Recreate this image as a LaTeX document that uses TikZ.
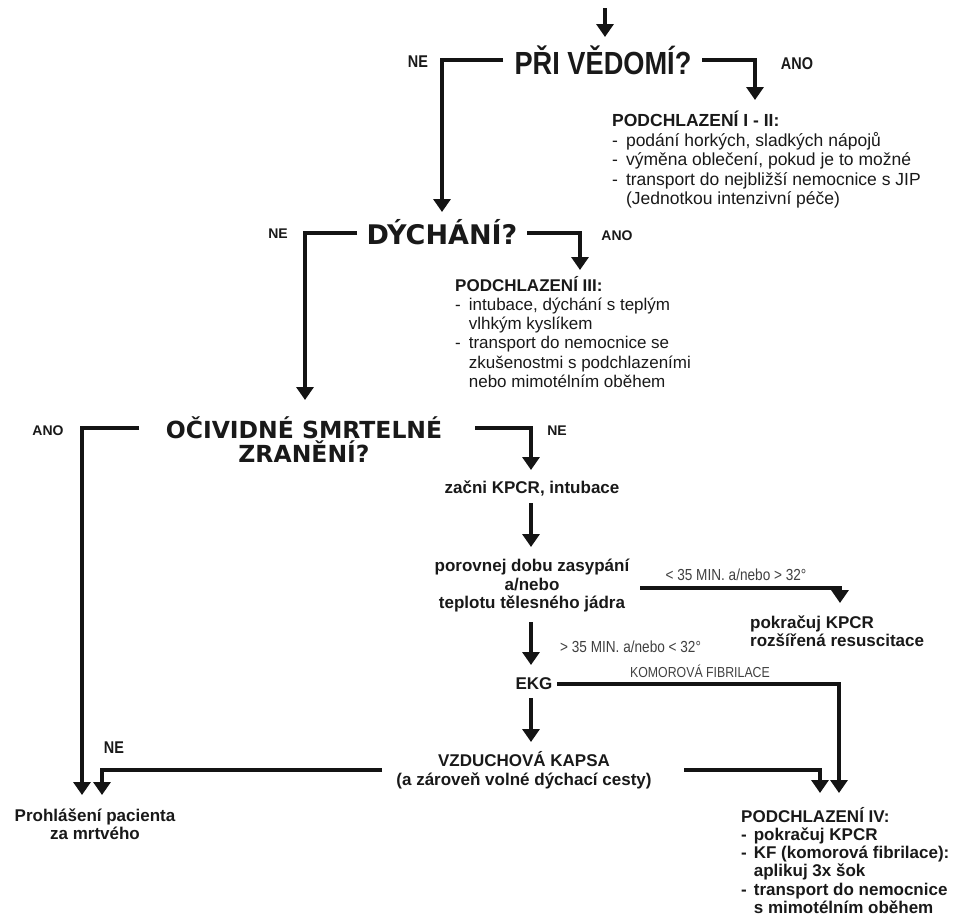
\documentclass[tikz,border=0pt]{standalone}
\usepackage{fontspec}
\setmainfont{Liberation Sans}
\newfontfamily\narrowf{Liberation Sans}[FakeStretch=0.85]
\newfontfamily\widef{DejaVu Sans}
\usetikzlibrary{arrows.meta}
\begin{document}
\begin{tikzpicture}[x=1pt,y=-1pt,
  ln/.style={line width=3.8pt, draw=black!92},
  ar/.style={ln, -{Triangle[length=13pt,width=17pt]}},
  txt/.style={inner sep=0pt, text=black!90},
  qa/.style={txt, font=\narrowf\bfseries\fontsize{32}{32}\selectfont},
  qb/.style={txt, font=\widef\bfseries\fontsize{27}{27}\selectfont, align=center},
  qc/.style={txt, font=\widef\bfseries\fontsize{23.5}{24}\selectfont, align=center},
  lbn/.style={txt, font=\narrowf\bfseries\fontsize{17}{17}\selectfont},
  lbw/.style={txt, font=\bfseries\fontsize{14}{14}\selectfont},
  bold/.style={txt, font=\bfseries\fontsize{17}{18.5}\selectfont, align=center},
  small/.style={txt, text=black!75, font=\narrowf\fontsize{16}{16}\selectfont},
]
\useasboundingbox (0,0) rectangle (969,922);

% --- question 1
\coordinate (top) at (605,8);
\coordinate (topend) at (605,37);
\node[qa] (q1) at (603,60) {PŘI VĚDOMÍ?};
\draw[ar] (top) -- (topend);
\node[lbn] (ne1) at (418,62) {NE};
\node[lbn] (ano1) at (797,64) {ANO};
\coordinate (q1l) at (503,60);
\coordinate (q1r) at (702,60);
\coordinate (b1a) at (755,100);
\coordinate (q2a) at (442,212);
\draw[ar] (q1l) -| (q2a);
\draw[ar] (q1r) -| (b1a);

\node[txt, anchor=north west, font=\fontsize{17.5}{19.3}\selectfont] (b1) at (612,111) {\begin{tabular}{@{}l@{\hspace{8pt}}l@{}}
\multicolumn{2}{@{}l}{\bfseries PODCHLAZENÍ I - II:}\\
-&podání horkých, sladkých nápojů\\
-&výměna oblečení, pokud je to možné\\
-&transport do nejbližší nemocnice s JIP\\
&(Jednotkou intenzivní péče)
\end{tabular}};

% --- question 2
\node[qb] (q2) at (442,232) {DÝCHÁNÍ?};
\node[lbw] (ne2) at (278,234) {NE};
\node[lbw] (ano2) at (617,236) {ANO};
\coordinate (q2l) at (357,233);
\coordinate (q2r) at (527,233);
\coordinate (b3a) at (580,270);
\coordinate (q3a) at (305,400);
\draw[ar] (q2l) -| (q3a);
\draw[ar] (q2r) -| (b3a);

\node[txt, anchor=north west, font=\fontsize{17}{19.2}\selectfont] (b3) at (455,276) {\begin{tabular}{@{}l@{\hspace{8pt}}l@{}}
\multicolumn{2}{@{}l}{\bfseries PODCHLAZENÍ III:}\\
-&intubace, dýchání s teplým\\
&vlhkým kyslíkem\\
-&transport do nemocnice se\\
&zkušenostmi s podchlazeními\\
&nebo mimotélním oběhem
\end{tabular}};

% --- question 3
\node[qc] (q3) at (304,440) {OČIVIDNÉ SMRTELNÉ\\ZRANĚNÍ?};
\node[lbw] (ano3) at (48,431) {ANO};
\node[lbw] (ne3) at (557,431) {NE};
\coordinate (q3l) at (139,428);
\coordinate (q3r) at (475,428);
\coordinate (deadA) at (82,795);
\coordinate (zacA) at (531,470);
\draw[ar] (q3l) -| (deadA);
\draw[ar] (q3r) -| (zacA);

\node[bold] (zac) at (532,488) {začni KPCR, intubace};
\coordinate (zacB) at (531,503);
\coordinate (porA) at (531,547);
\draw[ar] (zacB) -- (porA);

\node[bold] (por) at (532,586) {porovnej dobu zasypání\\a/nebo\\teplotu tělesného jádra};
\coordinate (porB) at (531,622);
\coordinate (ekgA) at (531,665);
\draw[ar] (porB) -- (ekgA);
\node[small, anchor=west] (gt) at (560,647) {> 35 MIN. a/nebo < 32°};

\coordinate (porR) at (640,588);
\coordinate (pokA) at (840,603);
\draw[ar] (porR) -| (pokA);
\node[small] (lt) at (736,575) {< 35 MIN. a/nebo > 32°};
\node[bold, anchor=west, align=left] (pok) at (750,631) {pokračuj KPCR\\rozšířená resuscitace};

% --- EKG
\node[bold] (ekg) at (534,684) {EKG};
\coordinate (ekgR) at (557,684);
\coordinate (p4b) at (839,793);
\draw[ar] (ekgR) -| (p4b);
\node[small, font=\narrowf\fontsize{14.5}{14.5}\selectfont] (kf) at (700,671) {KOMOROVÁ FIBRILACE};
\coordinate (ekgB) at (531,698);
\coordinate (vzA) at (531,742);
\draw[ar] (ekgB) -- (vzA);

% --- air pocket
\node[bold] (vz) at (524,770) {VZDUCHOVÁ KAPSA\\(a zároveň volné dýchací cesty)};
\node[lbn] (ne4) at (114,748) {NE};
\coordinate (vzL) at (382,770);
\coordinate (vzR) at (684,770);
\coordinate (deadB) at (102,795);
\coordinate (p4a) at (820,793);
\draw[ar] (vzL) -| (deadB);
\draw[ar] (vzR) -| (p4a);

\node[bold] (dead) at (95,824) {Prohlášení pacienta\\za mrtvého};

\node[txt, anchor=north west, font=\bfseries\fontsize{17}{18.2}\selectfont] (p4) at (741,807) {\begin{tabular}{@{}l@{\hspace{7pt}}l@{}}
\multicolumn{2}{@{}l}{PODCHLAZENÍ IV:}\\
-&pokračuj KPCR\\
-&KF (komorová fibrilace):\\
&aplikuj 3x šok\\
-&transport do nemocnice\\
&s mimotélním oběhem
\end{tabular}};
\end{tikzpicture}
\end{document}
